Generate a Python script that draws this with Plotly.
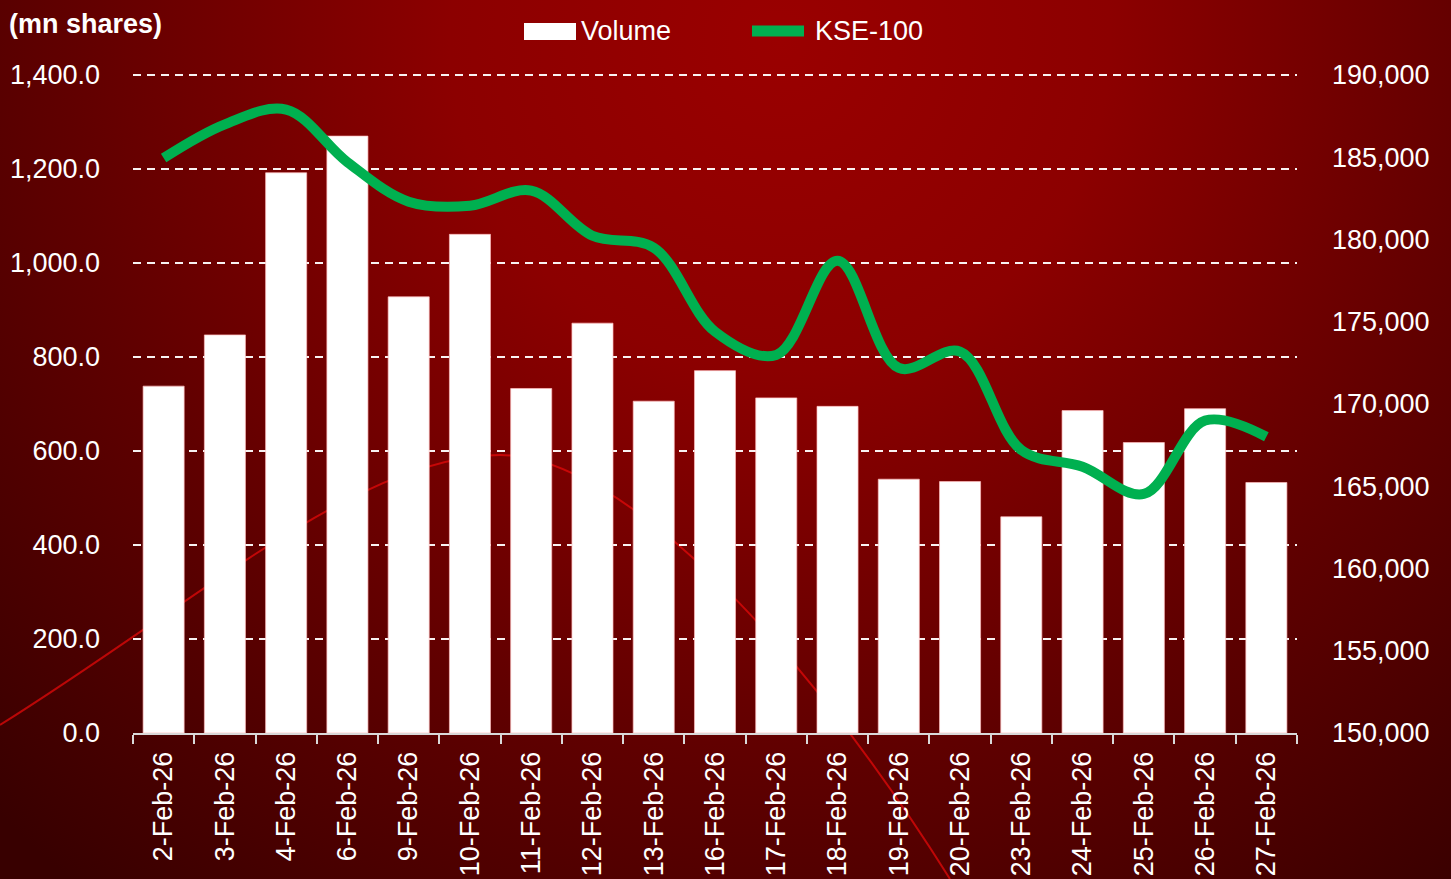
import base64
import plotly.graph_objects as go

categories = ["2-Feb-26", "3-Feb-26", "4-Feb-26", "6-Feb-26", "9-Feb-26", "10-Feb-26",
              "11-Feb-26", "12-Feb-26", "13-Feb-26", "16-Feb-26", "17-Feb-26", "18-Feb-26",
              "19-Feb-26", "20-Feb-26", "23-Feb-26", "24-Feb-26", "25-Feb-26", "26-Feb-26",
              "27-Feb-26"]
volume = [738, 847, 1192, 1270, 928, 1061, 733, 872, 706, 771, 713, 695,
          540, 535, 460, 686, 618, 690, 533]
kse100 = [184950, 187000, 187900, 184700, 182300, 182050, 182970, 180230, 179500,
          174400, 172980, 178710, 172190, 173180, 167200, 166190, 164530, 168990, 168010]

left_ticks = [0, 200, 400, 600, 800, 1000, 1200, 1400]
right_ticks = [150000, 155000, 160000, 165000, 170000, 175000, 180000, 185000, 190000]

W, H = 1451, 879
L, R, T, B = 133, 154, 75, 146
PW, PH = W - L - R, H - T - B
FONT = "Liberation Sans"
FS = 27
GRID_DASH = "8px,6px"
GRID_COLOR = "rgba(255,255,255,0.95)"


def px(x):
    return (x - L) / PW


def py(y):
    return (H - B - y) / PH


# background gradient (decorative)
svg = f'''<svg xmlns="http://www.w3.org/2000/svg" width="{W}" height="{H}">
<defs>
<radialGradient id="g" gradientUnits="userSpaceOnUse" cx="780" cy="40" r="1100">
<stop offset="0" stop-color="#9a0000"/>
<stop offset="0.3" stop-color="#8c0000"/>
<stop offset="0.65" stop-color="#600000"/>
<stop offset="1" stop-color="#380000"/>
</radialGradient>
</defs>
<rect width="{W}" height="{H}" fill="url(#g)"/>
</svg>'''
bg_src = "data:image/svg+xml;base64," + base64.b64encode(svg.encode()).decode()

fig = go.Figure()
fig.add_trace(go.Bar(
    x=categories, y=volume, name="Volume",
    marker=dict(color="#ffffff", line=dict(color="rgba(255,190,190,0.7)", width=1)),
    showlegend=False,
))
fig.add_trace(go.Scatter(
    x=categories, y=kse100, name="KSE-100", yaxis="y2", mode="lines",
    line=dict(color="#00b050", width=10, shape="spline", smoothing=1.0),
    showlegend=False,
))

# decorative thin red curve in background
pts = [(0, 725), (200, 600), (360, 455), (500, 455), (620, 455), (800, 640), (950, 879)]
path = "M {} {} C {} {}, {} {}, {} {} C {} {}, {} {}, {} {}".format(
    *[v for p in pts for v in (px(p[0]), py(p[1]))])

shapes = [
    dict(type="path", path=path, xref="paper", yref="paper", layer="below",
         line=dict(color="rgba(225,10,10,0.75)", width=2)),
    # top gridline (at the edge of the plot area)
    dict(type="line", xref="paper", yref="paper", x0=0, x1=1, y0=1, y1=1,
         layer="between", line=dict(color=GRID_COLOR, width=2, dash=GRID_DASH)),
    # legend: Volume box
    dict(type="rect", xref="paper", yref="paper", x0=px(524), x1=px(576), y0=py(40), y1=py(23),
         fillcolor="#ffffff", line=dict(width=0)),
    # legend: KSE line
    dict(type="line", xref="paper", yref="paper", x0=px(752), x1=px(804), y0=py(31), y1=py(31),
         line=dict(color="#00b050", width=11)),
]

annotations = [
    dict(text="<b>(mn shares)</b>", xref="paper", yref="paper", x=px(7), y=py(24),
         xanchor="left", yanchor="middle", showarrow=False,
         font=dict(family=FONT, size=FS, color="#ffffff")),
    dict(text="Volume", xref="paper", yref="paper", x=px(579), y=py(31),
         xanchor="left", yanchor="middle", showarrow=False,
         font=dict(family=FONT, size=FS, color="#ffffff")),
    dict(text="KSE-100", xref="paper", yref="paper", x=px(813), y=py(31),
         xanchor="left", yanchor="middle", showarrow=False,
         font=dict(family=FONT, size=FS, color="#ffffff")),
]

fig.update_layout(
    width=W, height=H,
    margin=dict(l=L, r=R, t=T, b=B, pad=0, autoexpand=False),
    paper_bgcolor="#6a0000",
    plot_bgcolor="rgba(0,0,0,0)",
    bargap=0.33,
    font=dict(family=FONT, size=FS, color="#ffffff"),
    images=[dict(source=bg_src, xref="paper", yref="paper", x=px(0), y=py(0),
                 sizex=W / PW, sizey=H / PH, xanchor="left", yanchor="top",
                 sizing="stretch", layer="below")],
    shapes=shapes,
    annotations=annotations,
    xaxis=dict(
        type="category", categoryorder="array", categoryarray=categories,
        range=[-0.5, len(categories) - 0.5], automargin=False,
        tickangle=-90, tickson="boundaries", ticks="outside", ticklen=9,
        tickcolor="#d9d9d9", tickwidth=2,
        showline=True, linecolor="#d9d9d9", linewidth=2,
        showgrid=False, tickfont=dict(family=FONT, size=FS, color="#ffffff"),
        ticklabelstandoff=6,
    ),
    yaxis=dict(
        range=[0, 1400], tickvals=left_ticks, tickformat=",.1f", automargin=False,
        showgrid=True, gridcolor=GRID_COLOR, gridwidth=2, griddash=GRID_DASH,
        zeroline=False, showline=False, ticks="",
        tickfont=dict(family=FONT, size=FS, color="#ffffff"),
        ticklabelstandoff=32,
    ),
    yaxis2=dict(
        range=[150000, 190000], tickvals=right_ticks, tickformat=",", automargin=False,
        overlaying="y", side="right", showgrid=False, zeroline=False, showline=False,
        ticks="", tickfont=dict(family=FONT, size=FS, color="#ffffff"),
        ticklabelstandoff=34,
    ),
)

fig.write_html(
    "out.html",
    config={"displayModeBar": False},
    post_script="document.body.style.margin='0';document.body.style.padding='0';"
                "document.body.style.overflow='hidden';",
)
